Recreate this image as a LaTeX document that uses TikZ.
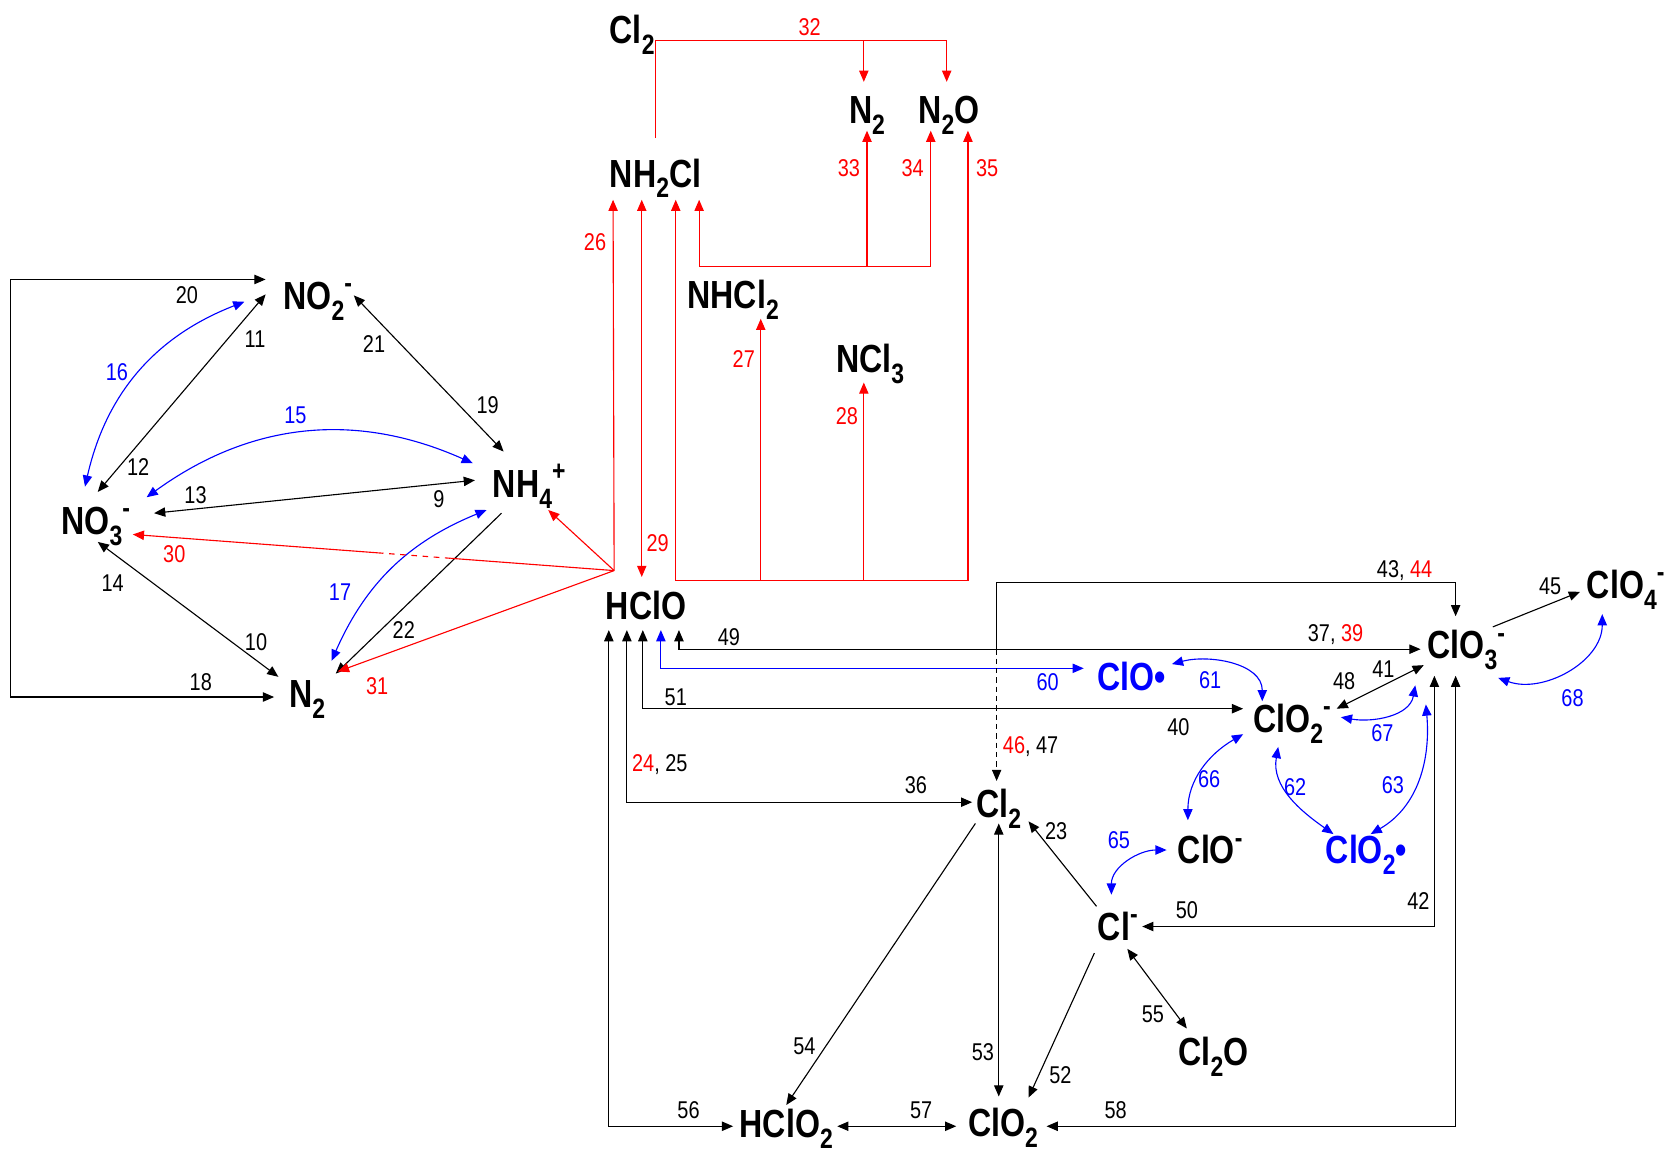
\documentclass[tikz,border=0pt]{standalone}
\usepackage{fontspec}
\setmainfont[FakeStretch=0.82]{Liberation Sans}
\usetikzlibrary{arrows.meta,calc}

\newcommand{\sbs}[1]{\raisebox{-0.28em}{\fontsize{15}{15}\selectfont #1}}
\newcommand{\sps}[1]{\raisebox{0.42em}{\fontsize{15}{15}\selectfont #1}}

\tikzset{
  sp/.style={font=\fontsize{21}{24}\selectfont\bfseries, inner sep=0pt, anchor=base},
  lab/.style={font=\fontsize{13}{15}\selectfont, inner sep=0pt},
}

\begin{document}
\begin{tikzpicture}[x=0.02cm, y=-0.02cm, line width=0.6pt, >={Triangle[length=6pt,width=5pt]}]
\useasboundingbox (0,0) rectangle (1568,1086);
% ----- nitrogen species -----
\node[sp] (no2) at (299,291) {NO\sbs{2}\sps{-}};
\node[sp] (no3) at (90,503) {NO\sbs{3}\sps{-}};
\node[sp] (nh4) at (498,468) {NH\sbs{4}\sps{+}};
\node[sp] (n2L) at (289,666) {N\sbs{2}};
% ----- chloramines -----
\node[sp] (cl2T) at (595,41) {Cl\sbs{2}};
\node[sp] (n2T) at (816,116) {N\sbs{2}};
\node[sp] (n2o) at (893,116) {N\sbs{2}O};
\node[sp] (nh2cl) at (617,176) {NH\sbs{2}Cl};
\node[sp] (nhcl2) at (690,290) {NHCl\sbs{2}};
\node[sp] (ncl3) at (819,351) {NCl\sbs{3}};
% ----- chlorine species -----
\node[sp] (hclo) at (608,583) {HClO};
\node[sp] (clo3) at (1380,620) {ClO\sbs{3}\sps{-}};
\node[sp] (clo4) at (1530,563) {ClO\sbs{4}\sps{-}};
\node[sp,blue] (cloR) at (1065,650) {ClO\textbullet};
\node[sp] (clo2m) at (1216,689) {ClO\sbs{2}\sps{-}};
\node[sp] (cl2B) at (940,769) {Cl\sbs{2}};
\node[sp] (clom) at (1139,813) {ClO\sps{-}};
\node[sp,blue] (clo2r) at (1286,813) {ClO\sbs{2}\textbullet};
\node[sp] (clm) at (1052,885) {Cl\sps{-}};
\node[sp] (cl2o) at (1142,1003) {Cl\sbs{2}O};
\node[sp] (hclo2) at (740,1071) {HClO\sbs{2}};
\node[sp] (clo2) at (944,1070) {ClO\sbs{2}};

% ----- nitrogen cycle -----
\draw[<->] ([shift={(-49,-28)}]no2.base) -- ++(-240,0) |- ([shift={(-31,-10)}]n2L.base);
\draw[<->] ([shift={(-49,-14)}]no2.base) -- ([shift={(2,-40)}]no3.base);
\draw[<->,blue] ([shift={(-69,-7)}]no2.base) to[bend right=28] ([shift={(-10,-45)}]no3.base);
\draw[<->] ([shift={(34,-13)}]no2.base) -- ([shift={(-24,-43)}]nh4.base);
\draw[<->,blue] ([shift={(48,-35)}]no3.base) to[bend left=30] ([shift={(-53,-32)}]nh4.base);
\draw[<->] ([shift={(55,-20)}]no3.base) -- ([shift={(-51,-16)}]nh4.base);
\draw[<->] ([shift={(2,7)}]no3.base) -- ([shift={(-27,-29)}]n2L.base);
\draw[<->,blue] ([shift={(-40,12)}]nh4.base) to[bend right=22] ([shift={(23,-44)}]n2L.base);
\draw[->] ([shift={(-26,15)}]nh4.base) -- ([shift={(27,-32)}]n2L.base);

% ----- red fan from HClO -----
\coordinate (fan) at ([shift={(-30,-46)}]hclo.base);
\coordinate (t30) at ([shift={(35,0)}]no3.base);
\draw[red] (fan) -- ($(fan)!0.34!(t30)$);
\draw[red,dashed] ($(fan)!0.34!(t30)$) -- ($(fan)!0.49!(t30)$);
\draw[red,->] ($(fan)!0.49!(t30)$) -- (t30);
\draw[red,->] (fan) -- ([shift={(29,-34)}]n2L.base);
\draw[red,->] (fan) -- ([shift={(18,12)}]nh4.base);
\draw[red,->] (fan) -- ([shift={(-40,12)}]nh2cl.base);

% ----- chloramine reactions -----
\draw[red,->] ([shift={(0,-46)}]nh2cl.base) -- ++(0,-92) -| ([shift={(-2,-39)}]n2o.base);
\draw[red,->] ([shift={(-3,-78)}]n2T.base) -- ([shift={(-3,-39)}]n2T.base);
\draw[red,<->] ([shift={(41,12)}]nh2cl.base) |- ([shift={(-17,135)}]n2o.base) -- ([shift={(-17,7)}]n2o.base);
\draw[red,->] ([shift={(0,135)}]n2T.base) -- ([shift={(0,7)}]n2T.base);
\draw[red,<->] ([shift={(19,12)}]nh2cl.base) |- ([shift={(18,430)}]n2o.base) -- ([shift={(18,7)}]n2o.base);
\draw[red,->] ([shift={(26,256)}]nhcl2.base) -- ([shift={(26,10)}]nhcl2.base);
\draw[red,->] ([shift={(-6,195)}]ncl3.base) -- ([shift={(-6,9)}]ncl3.base);
\draw[red,<->] ([shift={(-13,12)}]nh2cl.base) -- ([shift={(-4,-40)}]hclo.base);

% ----- HClO to chlorine species -----
\draw[<->] ([shift={(31,10)}]hclo.base) |- ([shift={(-43,-9)}]clo3.base);
\draw[<->,blue] ([shift={(14,10)}]hclo.base) |- ([shift={(-45,-21)}]cloR.base);
\draw[<->] ([shift={(-3,10)}]hclo.base) |- ([shift={(-46,-22)}]clo2m.base);
\draw[<->] ([shift={(-18,10)}]hclo.base) |- ([shift={(-25,-14)}]cl2B.base);
\draw[<->] ([shift={(-35,10)}]hclo.base) |- ([shift={(-50,-11)}]hclo2.base);
\draw[->] ([shift={(-2,-158)}]cl2B.base) -- ([shift={(-2,-221)}]cl2B.base) -| ([shift={(-10,-40)}]clo3.base);
\draw[->,dash pattern=on 3pt off 2pt] ([shift={(-2,-158)}]cl2B.base) -- ([shift={(-2,-34)}]cl2B.base);

% ----- chlorite / chlorate -----
\draw[->] ([shift={(25,-30)}]clo3.base) -- ([shift={(-43,-6)}]clo4.base);
\draw[<->,blue] ([shift={(30,18)}]clo3.base) to[out=-20,in=-90] ([shift={(-22,15)}]clo4.base);
\draw[<->] ([shift={(42,-22)}]clo2m.base) -- ([shift={(-40,6)}]clo3.base);
\draw[<->,blue] ([shift={(46,-14)}]clo2m.base) to[out=-10,in=-100] ([shift={(-48,25)}]clo3.base);
\draw[<->,blue] ([shift={(38,-25)}]cloR.base) to[out=15,in=90] ([shift={(-28,-29)}]clo2m.base);
\draw[<->,blue] ([shift={(-13,14)}]clo2m.base) to[out=-100,in=145] ([shift={(-31,-28)}]clo2r.base);
\draw[<->,blue] ([shift={(-38,43)}]clo3.base) to[out=-85,in=30] ([shift={(4,-28)}]clo2r.base);
\draw[<->,blue] ([shift={(-46,2)}]clo2m.base) to[out=-150,in=90] ([shift={(-21,-41)}]clom.base);
\draw[<->,blue] ([shift={(-41,-13)}]clom.base) to[out=180,in=90] ([shift={(-6,-43)}]clm.base);
\draw[->] ([shift={(-20,-32)}]clm.base) -- ([shift={(28,4)}]cl2B.base);
\draw[<->] ([shift={(-30,16)}]clo3.base) |- ([shift={(23,-13)}]clm.base);
\draw[<->] ([shift={(-10,16)}]clo3.base) |- ([shift={(41,-10)}]clo2.base);

% ----- lower triangle -----
\draw[<->] ([shift={(0,6)}]cl2B.base) -- ([shift={(-4,-38)}]clo2.base);
\draw[->] ([shift={(-22,6)}]cl2B.base) -- ([shift={(0,-31)}]hclo2.base);
\draw[->] ([shift={(-22,12)}]clm.base) -- ([shift={(24,-37)}]clo2.base);
\draw[<->] ([shift={(9,8)}]clm.base) -- ([shift={(-25,-35)}]cl2o.base);
\draw[<->] ([shift={(48,-11)}]hclo2.base) -- ([shift={(-44,-10)}]clo2.base);

% ----- reaction numbers -----
\foreach \n/\x/\y in {20/176/278,11/240/319,21/352/324,19/459/381,12/130/440,13/184/466,9/413/470,
  14/106/549,22/380/593,10/241/604,18/189/642,49/686/600,51/636/656,40/1109/684,36/862/739,
  56/648/1045,45/1459/552,48/1265/641,41/1302/630,23/994/782,50/1117/857,42/1335/848,
  53/925/990,54/757/985,52/998/1012,55/1085/955,57/867/1045,58/1050/1045}
  \node[lab] (l\n) at (\x,\y) {\n};
\foreach \n/\x/\y in {16/110/350,15/278/391,17/320/557,60/986/642,68/1480/657,61/1139/640,
  67/1301/690,66/1138/733,62/1219/741,63/1311/739,65/1053/791}
  \node[lab,blue] (l\n) at (\x,\y) {\n};
\foreach \n/\x/\y in {30/164/522,31/355/646,32/762/26,33/799/158,34/859/158,35/929/158,
  26/560/228,27/700/338,28/797/392,29/619/511}
  \node[lab,red] (l\n) at (\x,\y) {\n};
\node[lab] (l37) at (1257,597) {37, \textcolor{red}{39}};
\node[lab] (l43) at (1322,537) {43, \textcolor{red}{44}};
\node[lab] (l24) at (621,720) {\textcolor{red}{24}, 25};
\node[lab] (l46) at (970,703) {\textcolor{red}{46}, 47};
\end{tikzpicture}
\end{document}
